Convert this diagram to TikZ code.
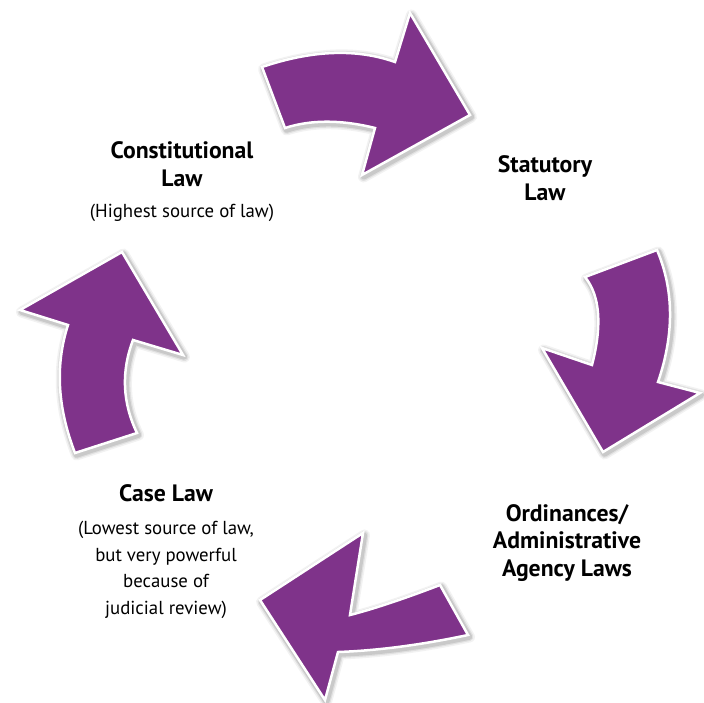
\documentclass[tikz,border=0pt]{standalone}
\usepackage{fontspec}
\setmainfont{PT Sans}
\definecolor{lawpurple}{RGB}{127,51,138}
\def\pathA{(262,67) .. controls (312.3,50) and (356.7,48.4) .. (395,62) -- (410,13) -- (470,115) -- (362,175) -- (375,128) .. controls (341,119.6) and (311,119.6) .. (285,128) -- cycle}
\def\pathB{(657,250) .. controls (674,290) and (674.4,334) .. (658,382) -- (700,393) -- (603,452) -- (542,348) -- (592,365) .. controls (602.3,325) and (600,295.6) .. (585,277) -- cycle}
\def\pathC{(468,635) .. controls (420.7,645) and (377.3,650.6) .. (338,652) -- (325,700) -- (260,600) -- (363,533) -- (350,615) .. controls (373.3,609) and (403.3,599) .. (440,585) -- cycle}
\def\pathD{(137,433) .. controls (122.4,402.7) and (121,371.7) .. (133,340) -- (183,355) -- (122,252) -- (20,310) -- (68,325) .. controls (55,365) and (57.4,407.6) .. (75,453) -- cycle}
\begin{document}
\begin{tikzpicture}[x=1pt,y=-1pt,
  glowa/.style={draw=black,draw opacity=0.05,line width=11pt,line join=round},
  glowb/.style={draw=black,draw opacity=0.07,line width=8pt,line join=round},
  glowc/.style={draw=black,draw opacity=0.10,line width=5.5pt,line join=round},
  arrowbody/.style={fill=lawpurple,draw=white,line width=2.5pt,line join=miter},
  head/.style={font=\bfseries\fontsize{23.7}{27.5}\selectfont,align=center,inner sep=0pt},
  note/.style={font=\fontsize{18.8}{26.7}\selectfont,align=center,inner sep=0pt}]
\useasboundingbox (0,0) rectangle (704,702);
\fill[white] (0,0) rectangle (704,702);
\foreach \p in {\pathA,\pathB,\pathC,\pathD}{
  \begin{scope}[shift={(1.5,2)}]
    \path[glowa] \p;
    \path[glowb] \p;
    \path[glowc] \p;
  \end{scope}
  \path[arrowbody] \p;
}
\node[head] (const) at (182,164) {Constitutional\\Law};
\node[note] (constnote) at (182,213) {(Highest source of law)};
\node[head] (stat) at (545,178) {Statutory\\Law};
\node[head] (ord) at (567,543) {Ordinances/\\Administrative\\Agency Laws};
\node[head] (case) at (166,493) {Case Law};
\node[note] (casenote) at (166,570) {(Lowest source of law,\\but very powerful\\because of\\judicial review)};
\end{tikzpicture}
\end{document}
